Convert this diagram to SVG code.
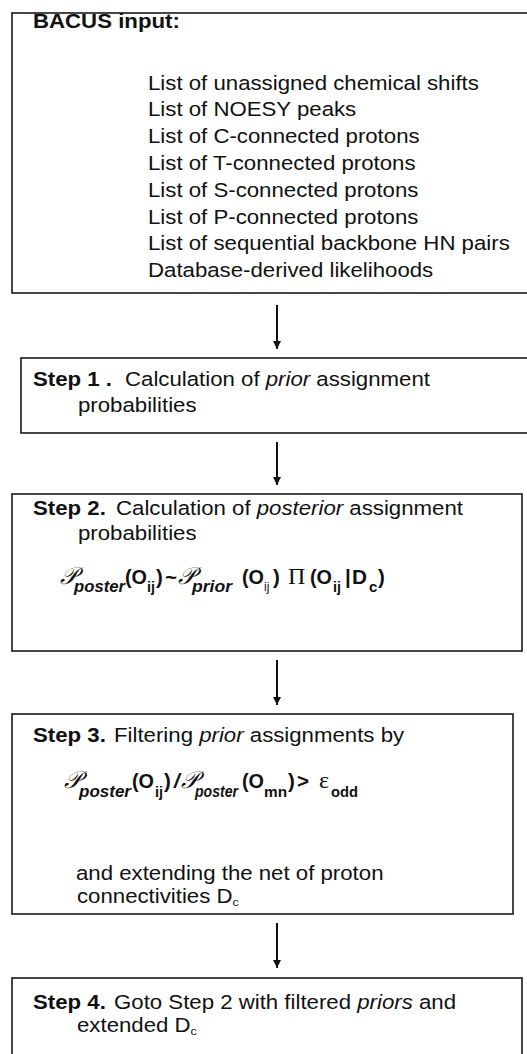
<svg xmlns="http://www.w3.org/2000/svg" width="527" height="1054" viewBox="0 0 527 1054">
<style>
text{font-family:"Liberation Sans",Arial,sans-serif;fill:#111;font-size:19.5px}
.b{font-weight:bold}
.i{font-style:italic}
.sub{font-size:16px;font-weight:bold;font-style:italic}
.sb{font-size:15px;font-weight:bold}
.sr{font-size:12px}
.f{font-size:20.5px;font-weight:bold}
.sc{font-family:"DejaVu Serif","Liberation Serif",serif;font-style:italic;font-size:24px}
.gr{font-family:"Liberation Serif",serif;font-size:24px}
.box{fill:#fff;stroke:#1a1a1a;stroke-width:1.6}
.con{stroke:#111;stroke-width:2;fill:none}
</style>
<defs>
<marker id="ah" markerUnits="userSpaceOnUse" markerWidth="10" markerHeight="10" refX="8" refY="4" orient="auto">
<path d="M0,0 L8,4 L0,8 Z" fill="#111"/>
</marker>
</defs>
<rect width="527" height="1054" fill="#fff"/>

<g id="connectors">
<line class="con" x1="277" y1="305" x2="277" y2="349" marker-end="url(#ah)"/>
<line class="con" x1="277" y1="442" x2="277" y2="485" marker-end="url(#ah)"/>
<line class="con" x1="277" y1="660" x2="277" y2="705" marker-end="url(#ah)"/>
<line class="con" x1="277" y1="923" x2="277" y2="968" marker-end="url(#ah)"/>
</g>

<g id="input">
<rect class="box" x="12" y="13" width="525" height="280"/>
<text class="b" transform="translate(33,28) scale(1.14,1)">BACUS input:</text>
<text transform="translate(148,90) scale(1.14,1)">List of unassigned chemical shifts</text>
<text transform="translate(148,116) scale(1.14,1)">List of NOESY peaks</text>
<text transform="translate(148,143) scale(1.14,1)">List of C-connected protons</text>
<text transform="translate(148,170) scale(1.14,1)">List of T-connected protons</text>
<text transform="translate(148,197) scale(1.14,1)">List of S-connected protons</text>
<text transform="translate(148,224) scale(1.14,1)">List of P-connected protons</text>
<text transform="translate(148,250) scale(1.14,1)">List of sequential backbone HN pairs</text>
<text transform="translate(148,277) scale(1.14,1)">Database-derived likelihoods</text>
</g>

<g id="step1">
<rect class="box" x="21" y="358" width="516" height="75"/>
<text class="b" transform="translate(33,386) scale(1.14,1)">Step 1 .</text>
<text transform="translate(125,386) scale(1.14,1)">Calculation of <tspan class="i">prior</tspan> assignment</text>
<text transform="translate(78,412) scale(1.14,1)">probabilities</text>
</g>

<g id="step2">
<rect class="box" x="12" y="494" width="510" height="157"/>
<text class="b" transform="translate(33,515) scale(1.14,1)">Step 2.</text>
<text transform="translate(116,515) scale(1.14,1)">Calculation of <tspan class="i">posterior</tspan> assignment</text>
<text transform="translate(78,540) scale(1.14,1)">probabilities</text>
<text class="sc" x="60" y="584">𝒫</text>
<text class="sub" x="74" y="592" textLength="51" lengthAdjust="spacingAndGlyphs">poster</text>
<text class="f" x="125" y="584" textLength="22" lengthAdjust="spacingAndGlyphs">(O</text>
<text class="sb" x="147" y="592" textLength="8" lengthAdjust="spacingAndGlyphs">ij</text>
<text class="f" x="156" y="584">)</text>
<text class="f" x="165" y="584">~</text>
<text class="sc" x="178" y="584">𝒫</text>
<text class="sub" x="192" y="592" textLength="40" lengthAdjust="spacingAndGlyphs">prior</text>
<text class="f" x="242" y="584" textLength="22" lengthAdjust="spacingAndGlyphs">(O</text>
<text class="sr" x="264" y="591">ij</text>
<text class="f" x="273" y="584">)</text>
<text class="gr" x="288" y="584">Π</text>
<text class="f" x="310" y="584" textLength="22" lengthAdjust="spacingAndGlyphs">(O</text>
<text class="sb" x="333" y="592" textLength="8" lengthAdjust="spacingAndGlyphs">ij</text>
<text class="f" x="345" y="584">|</text>
<text class="f" x="352" y="584" textLength="15" lengthAdjust="spacingAndGlyphs">D</text>
<text class="sb" x="369" y="592">c</text>
<text class="f" x="378" y="584">)</text>
</g>

<g id="step3">
<rect class="box" x="12" y="714" width="501" height="200"/>
<text class="b" transform="translate(33,742) scale(1.14,1)">Step 3.</text>
<text transform="translate(114,742) scale(1.14,1)">Filtering <tspan class="i">prior</tspan> assignments by</text>
<text class="sc" x="64" y="788">𝒫</text>
<text class="sub" x="79" y="797" textLength="52" lengthAdjust="spacingAndGlyphs">poster</text>
<text class="f" x="132" y="788" textLength="22" lengthAdjust="spacingAndGlyphs">(O</text>
<text class="sb" x="155" y="797" textLength="8" lengthAdjust="spacingAndGlyphs">ij</text>
<text class="f" x="164" y="788">)</text>
<text class="f i" x="174" y="788">/</text>
<text class="sc" x="181" y="788">𝒫</text>
<text class="sub" x="195" y="797" textLength="43" lengthAdjust="spacingAndGlyphs">poster</text>
<text class="f" x="242" y="788" textLength="22" lengthAdjust="spacingAndGlyphs">(O</text>
<text class="sb" x="264" y="797" textLength="23" lengthAdjust="spacingAndGlyphs">mn</text>
<text class="f" x="288" y="788">)</text>
<text class="f" x="297" y="788">&gt;</text>
<text class="gr" x="319" y="788">ε</text>
<text class="sb" x="331" y="797" textLength="27" lengthAdjust="spacingAndGlyphs">odd</text>
<text transform="translate(76,880) scale(1.14,1)">and extending the net of proton</text>
<text transform="translate(77,903) scale(1.14,1)">connectivities D<tspan font-size="11" dy="3">c</tspan></text>
</g>

<g id="step4">
<rect class="box" x="12" y="978" width="510" height="90"/>
<text class="b" transform="translate(33,1009) scale(1.14,1)">Step 4.</text>
<text transform="translate(114,1009) scale(1.14,1)">Goto Step 2 with filtered <tspan class="i">priors</tspan> and</text>
<text transform="translate(77,1032) scale(1.14,1)">extended D<tspan font-size="11" dy="3">c</tspan></text>
</g>
</svg>
